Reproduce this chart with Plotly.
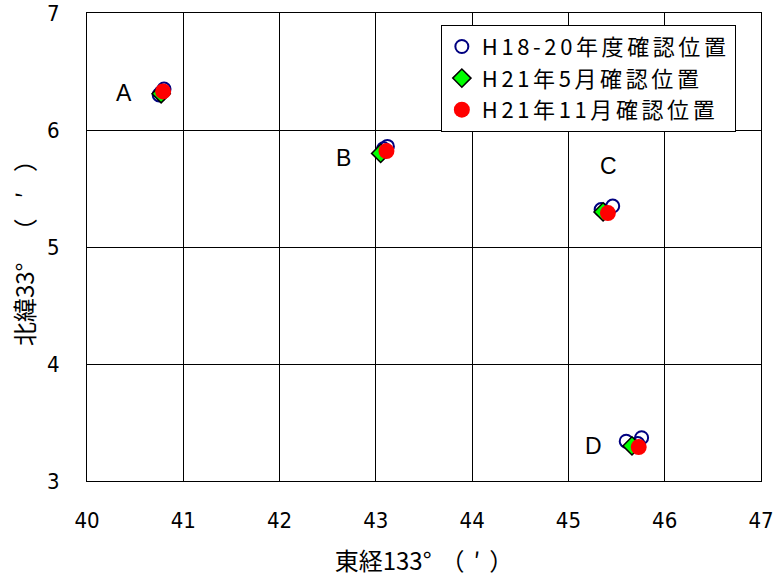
import plotly.graph_objects as go

# H18-20 positions (blue hollow circles)
h18_x = [40.75, 40.80, 40.77, 43.08, 43.12, 45.34, 45.46, 45.60, 45.76, 45.72]
h18_y = [6.30, 6.35, 6.32, 5.84, 5.86, 5.32, 5.35, 3.34, 3.37, 3.32]
# H21 May (green diamonds)
may_x = [40.77, 43.05, 45.36, 45.66]
may_y = [6.31, 5.80, 5.30, 3.30]
# H21 Nov (red circles)
nov_x = [40.79, 43.11, 45.41, 45.73]
nov_y = [6.33, 5.82, 5.29, 3.29]

series_names = ["H18-20年度確認位置", "H21年5月確認位置", "H21年11月確認位置"]

site_labels = ["A", "B", "C", "D"]
label_x = [40.38, 42.66, 45.42, 45.26]
label_y = [6.32, 5.76, 5.69, 3.30]

x_ticks = [40, 41, 42, 43, 44, 45, 46, 47]
y_ticks = [3, 4, 5, 6, 7]

font_jp = "Noto Sans CJK JP"


def spaced(txt, px):
    return "<span style='letter-spacing:%spx'>%s</span>" % (px, txt)


fig = go.Figure()
fig.add_trace(go.Scatter(x=h18_x, y=h18_y, mode="markers", name=spaced(series_names[0], 3.6),
                         marker=dict(symbol="circle-open", size=13, color="#000080",
                                     line=dict(width=2, color="#000080"))))
fig.add_trace(go.Scatter(x=may_x, y=may_y, mode="markers", name=spaced(series_names[1], 3.6),
                         marker=dict(symbol="diamond", size=14, color="#00ff00",
                                     line=dict(width=1.5, color="black"))))
fig.add_trace(go.Scatter(x=nov_x, y=nov_y, mode="markers", name=spaced(series_names[2], 3.6),
                         marker=dict(symbol="circle", size=16, color="#ff0000",
                                     line=dict(width=0))))

for t, lx, ly in zip(site_labels, label_x, label_y):
    fig.add_annotation(x=lx, y=ly, text=t, showarrow=False,
                       font=dict(family="Liberation Sans, Arial", size=23, color="black"))

tickfont = dict(family="DejaVu Sans", size=22)

fig.update_layout(
    width=776, height=578,
    margin=dict(l=87, r=15, t=13, b=97, autoexpand=False),
    plot_bgcolor="white", paper_bgcolor="white",
    font=dict(family=font_jp, color="black"),
    showlegend=True,
    legend=dict(x=0.525, y=0.975, xanchor="left", yanchor="top",
                bgcolor="white", bordercolor="black", borderwidth=1,
                font=dict(family=font_jp, size=22), itemsizing="trace",
                tracegroupgap=0),
)
fig.update_xaxes(range=[40, 47], tickvals=x_ticks, showgrid=True, gridcolor="black",
                 gridwidth=1, showline=True, linecolor="black", linewidth=1, mirror=True,
                 zeroline=False, ticks="", ticklabelstandoff=20, automargin=False,
                 tickfont=tickfont,
                 title=dict(text="東経133" + spaced("°（′", 9) + "）",
                            font=dict(family=font_jp, size=24), standoff=20))
fig.update_yaxes(range=[3, 7], tickvals=y_ticks, showgrid=True, gridcolor="black",
                 gridwidth=1, showline=True, linecolor="black", linewidth=1, mirror=True,
                 zeroline=False, ticks="", ticklabelstandoff=22, automargin=False,
                 tickfont=tickfont,
                 title=dict(text="北緯33" + spaced("°（′", 20) + "）",
                            font=dict(family=font_jp, size=24), standoff=4))

post = ("document.body.style.margin='0';"
        "document.querySelectorAll('.xtick text,.ytick text').forEach(e=>e.style.setProperty('font-stretch','condensed'));")

fig.write_html("out.html", post_script=post, config={"displayModeBar": False})
